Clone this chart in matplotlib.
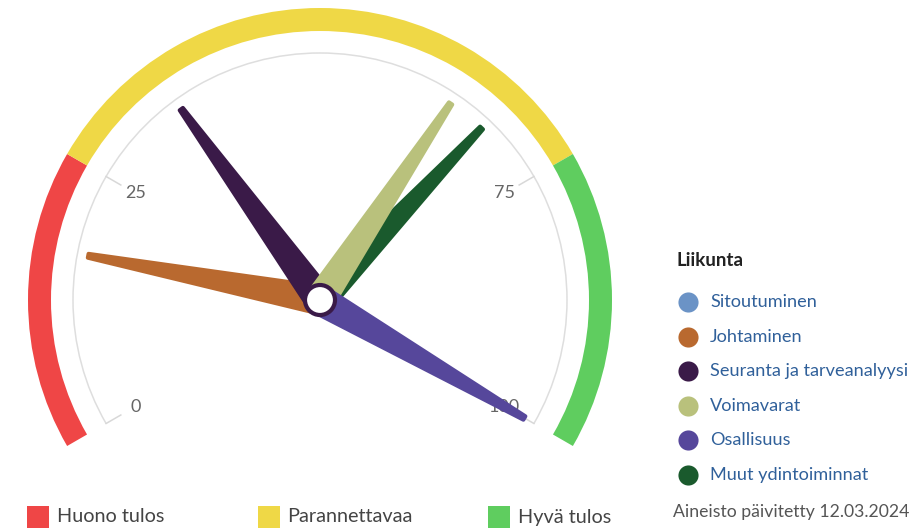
import numpy as np
import matplotlib
matplotlib.use("Agg")
import matplotlib.pyplot as plt
from matplotlib.patches import Wedge, Arc, Circle, Polygon, Rectangle

# gauge data (0..100)
series_names = ["Sitoutuminen", "Johtaminen", "Seuranta ja tarveanalyysi",
                "Voimavarat", "Osallisuus", "Muut ydintoiminnat"]
series_values = [None, 17, 35, 64, 100, 68]
series_colors = ["#6b93c6", "#b9692f", "#3a1a48", "#b9c17c", "#56479b", "#1a5a2d"]

band_names = ["Huono tulos", "Parannettavaa", "Hyvä tulos"]
band_from = [0, 25, 75]
band_to = [25, 75, 100]
band_colors = ["#ef4646", "#efd846", "#5fcd5f"]

tick_values = [0, 25, 75, 100]
legend_title = "Liikunta"
footer = "Aineisto päivitetty 12.03.2024"

# stacking of the needles (later = on top)
draw_order = [0, 1, 2, 5, 3, 4]

plt.rcParams['font.family'] = ['Lato', 'DejaVu Sans']

W, H = 923, 529
CX, CY = 320, 300          # gauge centre in pixels (from top-left)
START, SPAN = 210.0, 240.0  # degrees: value 0 at 210, value 100 at -30


def ang(v):
    return START - SPAN * v / 100.0


def px(x, y):
    # pixel position (from top-left) -> data coords
    return x - CX, CY - y


fig = plt.figure(figsize=(W / 100, H / 100), dpi=100)
ax = fig.add_axes([0, 0, 1, 1])
ax.set_xlim(-CX, W - CX)
ax.set_ylim(CY - H, CY)
ax.set_aspect('equal')
ax.axis('off')

# colour bands
for lo, hi, col in zip(band_from, band_to, band_colors):
    ax.add_patch(Wedge((0, 0), 292, ang(hi), ang(lo), width=23, facecolor=col,
                       edgecolor='none', zorder=1))

# thin axis line with ticks and labels
ax.add_patch(Arc((0, 0), 2 * 247, 2 * 247, theta1=ang(100), theta2=ang(0),
                 color='#dedede', lw=1.1, zorder=1))
for v in tick_values:
    a = np.radians(ang(v))
    ax.plot([247 * np.cos(a), 230 * np.cos(a)], [247 * np.sin(a), 230 * np.sin(a)],
            color='#d8d8d8', lw=1.1, zorder=1)
    ax.text(213 * np.cos(a), 213 * np.sin(a), str(v), ha='center', va='center',
            fontsize=13, color='#666666', zorder=2)

# needles
base_w, top_w, length, edge = 27, 4, 240, 4
for z, i in enumerate(draw_order):
    v, col = series_values[i], series_colors[i]
    if v is None:
        continue
    a = np.radians(ang(v))
    d = np.array([np.cos(a), np.sin(a)])
    n = np.array([-np.sin(a), np.cos(a)])
    tip = d * (length - edge / 2 - top_w / 2)
    pts = [n * base_w / 2, tip + n * top_w / 2, tip - n * top_w / 2, -n * base_w / 2]
    ax.add_patch(Polygon(pts, closed=True, facecolor=col, edgecolor=col,
                         lw=edge * 0.72, joinstyle='round', zorder=3 + z * 0.1))

# pivot
ax.add_patch(Circle((0, 0), 15, facecolor='white', edgecolor='#3a1a48', lw=3, zorder=4))

# series legend (right)
x0, y0 = px(677, 260)
ax.text(x0, y0, legend_title, fontsize=13.5, fontweight='bold', color='#222222',
        ha='left', va='center')
for i, (name, col) in enumerate(zip(series_names, series_colors)):
    mx, my = px(688, 302 + i * 34.6)
    ax.scatter([mx], [my], s=210, color=col, zorder=5, linewidths=0)
    tx, ty = px(710, 302 + i * 34.6)
    ax.text(tx, ty, name, fontsize=13.1, color='#30609a', ha='left', va='center')

fx, fy = px(673, 512)
ax.text(fx, fy, footer, fontsize=12.7, color='#555555', ha='left', va='center')

# band legend (bottom)
for i, (name, col) in enumerate(zip(band_names, band_colors)):
    sx, sy = px(27 + i * 230.5, 528)
    ax.add_patch(Rectangle((sx, sy), 22, 22, facecolor=col, edgecolor='none'))
    tx, ty = px(57 + i * 230.5, 517)
    ax.text(tx, ty, name, fontsize=14.3, color='#444444', ha='left', va='center')

fig.savefig("out.png", dpi=100)
